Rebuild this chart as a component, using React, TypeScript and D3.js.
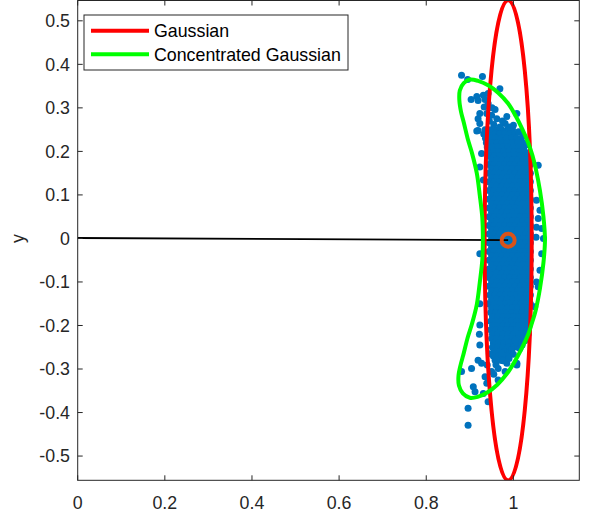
import React from 'react';
import * as d3 from 'd3';

const W = 589;
const H = 517;
const M = { left: 77.7, right: 579.3, top: 0.5, bottom: 480.3 };

const xDomain: [number, number] = [0, 1.1513];
const yDomain: [number, number] = [-0.5557, 0.5467];

const xTicks = [0, 0.2, 0.4, 0.6, 0.8, 1];
const xTickLabels = ['0', '0.2', '0.4', '0.6', '0.8', '1'];
const yTicks = [-0.5, -0.4, -0.3, -0.2, -0.1, 0, 0.1, 0.2, 0.3, 0.4, 0.5];
const yTickLabels = ['-0.5', '-0.4', '-0.3', '-0.2', '-0.1', '0', '0.1', '0.2', '0.3', '0.4', '0.5'];

const legendLabels = ['Gaussian', 'Concentrated Gaussian'];
const legendColors = ['#ff0000', '#00ff00'];

// start pose and mean
const origin: [number, number] = [0, 0.001];
const meanPoint: [number, number] = [0.988, -0.004];

// Gaussian ellipse (red): centre and semi-axes
const gaussCenter: [number, number] = [0.988, -0.0045];
const gaussRadii: [number, number] = [0.054, 0.5515];

// Concentrated Gaussian contour (green), traced clockwise from top tip
const bananaContour: [number, number][] = [
  [0.9, 0.365], [0.919, 0.362], [0.942, 0.352], [0.965, 0.335],
  [0.988, 0.31], [1.006, 0.28], [1.021, 0.25], [1.034, 0.22],
  [1.044, 0.19], [1.051, 0.162], [1.061, 0.11], [1.069, 0.05],
  [1.0725, -0.003], [1.069, -0.056], [1.061, -0.115], [1.051, -0.166],
  [1.043, -0.193], [1.033, -0.223], [1.019, -0.253], [1.003, -0.283],
  [0.985, -0.311], [0.963, -0.336], [0.94, -0.354], [0.918, -0.364],
  [0.9, -0.366], [0.884, -0.356], [0.875, -0.338], [0.874, -0.316],
  [0.879, -0.29], [0.885, -0.268], [0.895, -0.228], [0.905, -0.196],
  [0.916, -0.152], [0.923, -0.1], [0.9286, -0.05], [0.93, -0.003],
  [0.9286, 0.048], [0.923, 0.098], [0.916, 0.15], [0.905, 0.196],
  [0.896, 0.226], [0.886, 0.267], [0.88, 0.29], [0.876, 0.317],
  [0.877, 0.34], [0.886, 0.357],
];

// dense core of the samples, row by row: [y, xs]
const coreRows: [number, number[]][] = [
  [0.25, [0.935, 0.948, 0.96, 0.973, 0.986, 0.998]],
  [0.24, [0.932, 0.944, 0.956, 0.968, 0.98, 0.992, 1.004]],
  [0.23, [0.936, 0.948, 0.96, 0.972, 0.984, 0.996, 1.008, 1.018]],
  [0.22, [0.938, 0.95, 0.962, 0.974, 0.986, 0.998, 1.01, 1.022]],
  [0.21, [0.94, 0.952, 0.964, 0.976, 0.988, 1.0, 1.012, 1.024]],
  [0.2, [0.942, 0.954, 0.966, 0.978, 0.99, 1.002, 1.014, 1.026]],
  [0.19, [0.944, 0.956, 0.968, 0.98, 0.992, 1.004, 1.016, 1.028, 1.034]],
  [0.18, [0.95, 0.962, 0.974, 0.986, 0.998, 1.01, 1.022, 1.034]],
  [0.17, [0.944, 0.956, 0.968, 0.98, 0.992, 1.004, 1.016, 1.028, 1.039]],
  [0.16, [0.95, 0.962, 0.974, 0.986, 0.998, 1.01, 1.022, 1.034]],
  [0.15, [0.944, 0.956, 0.968, 0.98, 0.992, 1.004, 1.016, 1.028, 1.039]],
  [0.14, [0.95, 0.962, 0.974, 0.986, 0.998, 1.01, 1.022, 1.034]],
  [0.13, [0.944, 0.956, 0.968, 0.98, 0.992, 1.004, 1.016, 1.028, 1.039]],
  [0.12, [0.95, 0.962, 0.974, 0.986, 0.998, 1.01, 1.022, 1.034]],
  [0.11, [0.944, 0.956, 0.968, 0.98, 0.992, 1.004, 1.016, 1.028, 1.039]],
  [0.1, [0.95, 0.962, 0.974, 0.986, 0.998, 1.01, 1.022, 1.034]],
  [0.09, [0.944, 0.956, 0.968, 0.98, 0.992, 1.004, 1.016, 1.028, 1.039]],
  [0.08, [0.95, 0.962, 0.974, 0.986, 0.998, 1.01, 1.022, 1.034]],
  [0.07, [0.944, 0.956, 0.968, 0.98, 0.992, 1.004, 1.016, 1.028, 1.039]],
  [0.06, [0.95, 0.962, 0.974, 0.986, 0.998, 1.01, 1.022, 1.034]],
  [0.05, [0.944, 0.956, 0.968, 0.98, 0.992, 1.004, 1.016, 1.028, 1.039]],
  [0.04, [0.95, 0.962, 0.974, 0.986, 0.998, 1.01, 1.022, 1.034]],
  [0.03, [0.944, 0.956, 0.968, 0.98, 0.992, 1.004, 1.016, 1.028, 1.039]],
  [0.02, [0.95, 0.962, 0.974, 0.986, 0.998, 1.01, 1.022, 1.034]],
  [0.01, [0.944, 0.956, 0.968, 0.98, 0.992, 1.004, 1.016, 1.028, 1.039]],
  [0.0, [0.95, 0.962, 0.974, 0.986, 0.998, 1.01, 1.022, 1.034]],
  [-0.01, [0.944, 0.956, 0.968, 0.98, 0.992, 1.004, 1.016, 1.028, 1.039]],
  [-0.02, [0.95, 0.962, 0.974, 0.986, 0.998, 1.01, 1.022, 1.034]],
  [-0.03, [0.944, 0.956, 0.968, 0.98, 0.992, 1.004, 1.016, 1.028, 1.039]],
  [-0.04, [0.95, 0.962, 0.974, 0.986, 0.998, 1.01, 1.022, 1.034]],
  [-0.05, [0.944, 0.956, 0.968, 0.98, 0.992, 1.004, 1.016, 1.028, 1.039]],
  [-0.06, [0.95, 0.962, 0.974, 0.986, 0.998, 1.01, 1.022, 1.034]],
  [-0.07, [0.944, 0.956, 0.968, 0.98, 0.992, 1.004, 1.016, 1.028, 1.039]],
  [-0.08, [0.95, 0.962, 0.974, 0.986, 0.998, 1.01, 1.022, 1.034]],
  [-0.09, [0.944, 0.956, 0.968, 0.98, 0.992, 1.004, 1.016, 1.028, 1.039]],
  [-0.1, [0.95, 0.962, 0.974, 0.986, 0.998, 1.01, 1.022, 1.034]],
  [-0.11, [0.944, 0.956, 0.968, 0.98, 0.992, 1.004, 1.016, 1.028, 1.039]],
  [-0.12, [0.95, 0.962, 0.974, 0.986, 0.998, 1.01, 1.022, 1.034]],
  [-0.13, [0.946, 0.958, 0.97, 0.982, 0.994, 1.006, 1.018, 1.03, 1.039]],
  [-0.14, [0.95, 0.962, 0.974, 0.986, 0.998, 1.01, 1.022, 1.034]],
  [-0.15, [0.946, 0.958, 0.97, 0.982, 0.994, 1.006, 1.018, 1.03, 1.039]],
  [-0.16, [0.95, 0.962, 0.974, 0.986, 0.998, 1.01, 1.022, 1.034]],
  [-0.17, [0.948, 0.96, 0.972, 0.984, 0.996, 1.008, 1.02, 1.032]],
  [-0.18, [0.952, 0.964, 0.976, 0.988, 1.0, 1.012, 1.024, 1.036]],
  [-0.19, [0.948, 0.96, 0.972, 0.984, 0.996, 1.008, 1.02, 1.032]],
  [-0.2, [0.952, 0.964, 0.976, 0.988, 1.0, 1.012, 1.024, 1.036]],
  [-0.21, [0.948, 0.96, 0.972, 0.984, 0.996, 1.008, 1.02, 1.032]],
  [-0.22, [0.952, 0.964, 0.976, 0.988, 1.0, 1.012, 1.024, 1.034]],
  [-0.23, [0.95, 0.962, 0.974, 0.986, 0.998, 1.01, 1.022]],
  [-0.24, [0.954, 0.966, 0.978, 0.99, 1.002, 1.014]],
  [-0.25, [0.952, 0.964, 0.976, 0.988, 1.0, 1.01]],
  [-0.26, [0.956, 0.968, 0.98, 0.992]],
  [-0.27, [0.954, 0.966, 0.978, 0.99]],
  [-0.28, [0.958, 0.97]],
];

// sparse samples around the core
const outerPoints: [number, number][] = [
  [0.881, 0.375], [0.895, 0.365], [0.929, 0.372], [0.969, 0.344],
  [0.903, 0.319], [0.916, 0.326], [0.919, 0.317], [0.931, 0.329], [0.935, 0.319], [0.942, 0.333],
  [0.933, 0.302], [0.939, 0.287], [0.923, 0.287], [0.919, 0.275], [0.95, 0.283], [0.962, 0.275],
  [0.923, 0.264], [0.919, 0.248], [0.916, 0.247], [1.008, 0.287], [1.0, 0.26], [0.981, 0.264],
  [0.969, 0.256], [0.927, 0.195], [0.923, 0.164], [0.931, 0.134],
  [0.955, 0.262], [0.975, 0.27], [0.99, 0.256], [1.012, 0.245], [1.022, 0.236], [0.945, 0.27],
  [0.958, 0.296], [0.985, 0.28], [0.942, 0.31], [0.951, 0.3], [1.03, 0.215],
  [1.057, 0.168], [1.053, 0.088], [1.061, 0.065], [1.057, 0.046], [1.053, 0.026],
  [1.065, 0.023], [1.069, 0.0], [1.052, 0.003],
  [1.065, -0.035], [1.061, -0.073], [1.053, -0.1], [1.057, -0.111], [1.049, -0.157],
  [0.923, -0.035], [0.944, -0.08], [0.94, -0.15], [0.923, -0.15], [0.923, -0.199], [0.922, -0.22],
  [0.923, -0.245], [0.919, -0.28], [0.927, -0.287], [0.881, -0.306], [0.904, -0.299],
  [0.935, -0.318], [0.908, -0.341], [0.912, -0.352], [0.931, -0.356], [0.942, -0.375],
  [0.896, -0.39], [0.896, -0.429], [0.965, -0.325], [0.95, -0.306], [0.985, -0.287],
  [1.008, -0.287], [0.981, -0.306], [1.004, -0.234], [0.962, -0.28], [0.939, -0.333],
  [0.965, -0.299], [1.008, -0.291], [0.973, -0.264], [0.996, -0.257], [1.015, -0.253],
  [0.96, -0.29], [0.976, -0.281], [0.99, -0.276], [1.0, -0.266], [1.02, -0.245],
  [1.026, -0.235], [0.945, -0.265], [0.94, -0.291], [0.955, -0.312],
];

const blue = '#0072bd';
const axisColor = '#262626';
const font = '"Liberation Sans", Arial, Helvetica, sans-serif';

export default function App() {
  const x = d3.scaleLinear().domain(xDomain).range([M.left, M.right]);
  const y = d3.scaleLinear().domain(yDomain).range([M.bottom, M.top]);

  const samples: [number, number][] = [];
  coreRows.forEach(([yy, xs]) => xs.forEach((xx) => samples.push([xx, yy])));
  outerPoints.forEach((p) => samples.push(p));

  const bananaPath = d3
    .line<[number, number]>()
    .x((d) => x(d[0]))
    .y((d) => y(d[1]))
    .curve(d3.curveCatmullRomClosed.alpha(0.5))(bananaContour) as string;

  const tickLen = 5;
  const fs = 17.8;

  return (
    <svg width={W} height={H} style={{ position: 'absolute', left: 0, top: 0, background: '#fff' }}>
      <defs>
        <clipPath id="plotclip">
          <rect x={M.left} y={0} width={M.right - M.left} height={M.bottom} />
        </clipPath>
      </defs>
      <rect x={0} y={0} width={W} height={H} fill="#fff" />
      <g clipPath="url(#plotclip)">
        {samples.map((p, i) => (
          <circle key={i} cx={x(p[0])} cy={y(p[1])} r={3.5} fill={blue} />
        ))}
        <line x1={x(origin[0])} y1={y(origin[1])} x2={x(meanPoint[0])} y2={y(meanPoint[1])} stroke="#000" strokeWidth={1.8} />
        <ellipse
          cx={x(gaussCenter[0])}
          cy={y(gaussCenter[1])}
          rx={x(gaussRadii[0]) - x(0)}
          ry={y(0) - y(gaussRadii[1])}
          fill="none"
          stroke="#ff0000"
          strokeWidth={4}
        />
        <path d={bananaPath} fill="none" stroke="#00ff00" strokeWidth={4} />
        <circle cx={x(meanPoint[0])} cy={y(meanPoint[1])} r={6.5} fill="none" stroke="#d95319" strokeWidth={4} />
      </g>

      {/* axes box */}
      <rect x={M.left} y={M.top} width={M.right - M.left} height={M.bottom - M.top} fill="none" stroke={axisColor} strokeWidth={1} />
      {xTicks.map((t, i) => (
        <g key={'xt' + i}>
          <line x1={x(t)} x2={x(t)} y1={M.bottom} y2={M.bottom - tickLen} stroke={axisColor} />
          <line x1={x(t)} x2={x(t)} y1={M.top} y2={M.top + tickLen} stroke={axisColor} />
          <text x={x(t)} y={509} textAnchor="middle" fontFamily={font} fontSize={fs} fill={axisColor}>
            {xTickLabels[i]}
          </text>
        </g>
      ))}
      {yTicks.map((t, i) => (
        <g key={'yt' + i}>
          <line x1={M.left} x2={M.left + tickLen} y1={y(t)} y2={y(t)} stroke={axisColor} />
          <line x1={M.right} x2={M.right - tickLen} y1={y(t)} y2={y(t)} stroke={axisColor} />
          <text x={70} y={y(t) + 6.3} textAnchor="end" fontFamily={font} fontSize={fs} fill={axisColor}>
            {yTickLabels[i]}
          </text>
        </g>
      ))}
      <text
        transform={`translate(24, ${y(0)}) rotate(-90)`}
        textAnchor="middle"
        fontFamily={font}
        fontSize={fs}
        fill={axisColor}
      >
        y
      </text>

      {/* legend */}
      <rect x={84} y={15} width={264} height={55} fill="#fff" stroke={axisColor} strokeWidth={1} />
      {legendLabels.map((lab, i) => {
        const ly = 30.7 + i * 23.6;
        return (
          <g key={'lg' + i}>
            <line x1={91} x2={149} y1={ly} y2={ly} stroke={legendColors[i]} strokeWidth={4} />
            <text x={154} y={ly + 6.3} fontFamily={font} fontSize={fs} fill="#000">
              {lab}
            </text>
          </g>
        );
      })}
    </svg>
  );
}
